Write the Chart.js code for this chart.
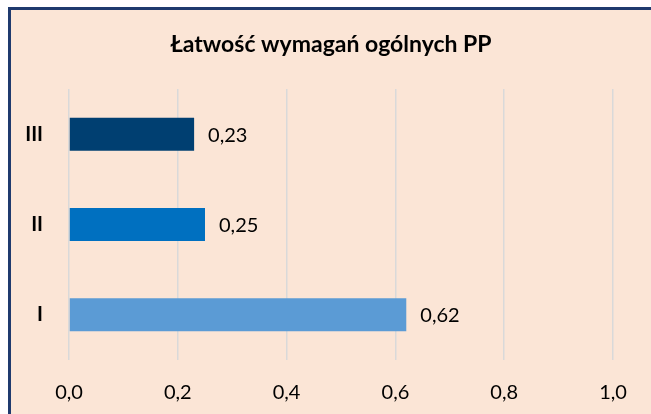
<!DOCTYPE html>
<html>
<head>
<meta charset="utf-8">
<script src="https://cdn.jsdelivr.net/npm/chart.js@4"></script>
<style>
  html, body { margin: 0; padding: 0; background: #fff; }
  #frame {
    position: absolute; left: 8px; top: 7px;
    width: 643px; height: 407px;
    border-left: 3px solid #1F3A6E; border-top: 3px solid #1F3A6E;
    background: #FBE5D6;
  }
  #chart { display: block; }
</style>
</head>
<body>
<div id="frame"><canvas id="chart" width="640" height="404"></canvas></div>
<script>
  // Chart data
  const categories = ['III', 'II', 'I'];
  const values = [0.23, 0.25, 0.62];
  const barColors = ['#003F71', '#0070C0', '#5B9BD5'];
  const xTicks = [0, 0.2, 0.4, 0.6, 0.8, 1.0];
  const chartTitle = 'Łatwość wymagań ogólnych PP';

  const FONT = 'Lato, Calibri, sans-serif';
  const comma = (v, d) => v.toFixed(d).replace('.', ',');

  // title centred on the frame, value labels right of each bar
  const textPlugin = {
    id: 'textPlugin',
    afterDatasetsDraw(chart) {
      const ctx = chart.ctx;
      ctx.save();
      ctx.fillStyle = '#000';
      ctx.textBaseline = 'middle';

      ctx.textAlign = 'center';
      ctx.font = 'bold 23px ' + FONT;
      ctx.fillText(chartTitle, 320, 35);

      ctx.textAlign = 'left';
      ctx.font = '20px ' + FONT;
      chart.getDatasetMeta(0).data.forEach((bar, i) => {
        ctx.fillText(comma(values[i], 2), bar.x + 14, bar.y + 1);
      });
      ctx.restore();
    }
  };

  new Chart(document.getElementById('chart'), {
    type: 'bar',
    data: {
      labels: categories,
      datasets: [{
        data: values,
        backgroundColor: barColors,
        barPercentage: 0.73,
        categoryPercentage: 0.5
      }]
    },
    options: {
      indexAxis: 'y',
      responsive: false,
      animation: false,
      layout: { padding: { top: 79, right: 38, bottom: 0, left: 0 } },
      plugins: {
        legend: { display: false },
        tooltip: { enabled: false },
        title: { display: false }
      },
      scales: {
        x: {
          min: 0, max: 1,
          afterBuildTicks: (s) => { s.ticks = xTicks.map(v => ({ value: v })); },
          afterFit: (s) => { s.height = 54; },
          border: { display: false },
          grid: { color: '#D9D9D9', lineWidth: 1.5, drawTicks: false },
          ticks: {
            padding: 21,
            color: '#000',
            font: { family: FONT, size: 20 },
            callback: (v) => comma(v, 1)
          }
        },
        y: {
          afterFit: (s) => { s.width = 58; },
          border: { display: false },
          grid: { display: false, drawTicks: false },
          ticks: {
            padding: 26,
            color: '#000',
            font: { family: FONT, size: 20, weight: 'bold' }
          }
        }
      }
    },
    plugins: [textPlugin]
  });
</script>
</body>
</html>
